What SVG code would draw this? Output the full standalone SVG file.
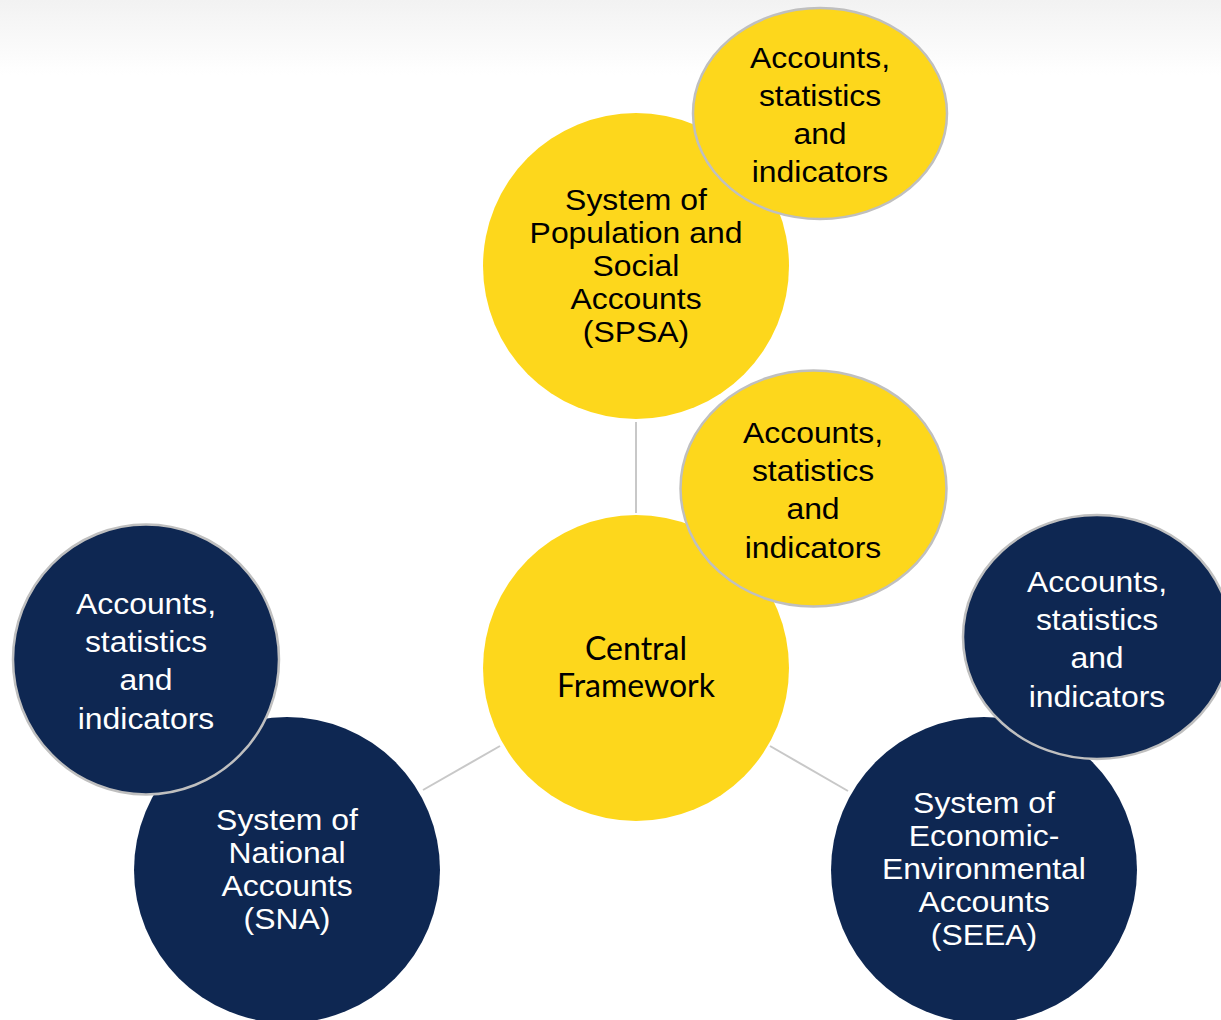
<svg xmlns="http://www.w3.org/2000/svg" width="1221" height="1020" viewBox="0 0 1221 1020">
<defs>
<linearGradient id="bg" x1="0" y1="0" x2="0" y2="1">
<stop offset="0" stop-color="#f2f2f2"/>
<stop offset="1" stop-color="#ffffff"/>
</linearGradient>
<style>
.y{fill:#FDD71C}
.n{fill:#0E2752}
.sub{stroke:#BFBFBF;stroke-width:2.5}
.t{font-family:"Liberation Sans",Arial,sans-serif;font-size:29px;text-anchor:middle}
.tb{fill:#000}
.tw{fill:#fff}
.c{font-family:Lato,"Open Sans",sans-serif;font-size:32px;text-anchor:middle;fill:#000}
.conn{stroke:#C8C8C8;stroke-width:2;fill:none}
</style>
</defs>
<rect x="0" y="0" width="1221" height="1020" fill="#fff"/>
<rect x="0" y="0" width="1221" height="75" fill="url(#bg)"/>
<g id="connectors">
<line class="conn" x1="636" y1="422" x2="636" y2="513"/>
<line class="conn" x1="423" y1="790" x2="500" y2="746"/>
<line class="conn" x1="770" y1="746" x2="848" y2="791"/>
</g>
<g id="spsa">
<circle class="y" cx="636" cy="266" r="153"/>
<g transform="translate(636 0) scale(1.1 1)">
<text class="t tb" x="0" y="210">System of</text>
<text class="t tb" x="0" y="243">Population and</text>
<text class="t tb" x="0" y="276">Social</text>
<text class="t tb" x="0" y="309">Accounts</text>
<text class="t tb" x="0" y="342">(SPSA)</text>
</g>
</g>
<g id="spsa-indicators">
<ellipse class="y sub" cx="820" cy="113.5" rx="127" ry="105.5"/>
<g transform="translate(820 0) scale(1.1 1)">
<text class="t tb" x="0" y="68">Accounts,</text>
<text class="t tb" x="0" y="106">statistics</text>
<text class="t tb" x="0" y="144">and</text>
<text class="t tb" x="0" y="182">indicators</text>
</g>
</g>
<g id="central">
<circle class="y" cx="636" cy="668" r="153"/>
<text class="c" x="636" y="660">Central</text>
<text class="c" x="636" y="697">Framework</text>
</g>
<g id="central-indicators">
<ellipse class="y sub" cx="813.5" cy="488.5" rx="133" ry="118"/>
<g transform="translate(813 0) scale(1.1 1)">
<text class="t tb" x="0" y="443">Accounts,</text>
<text class="t tb" x="0" y="481">statistics</text>
<text class="t tb" x="0" y="519">and</text>
<text class="t tb" x="0" y="558">indicators</text>
</g>
</g>
<g id="sna">
<circle class="n" cx="287" cy="870" r="153"/>
<g transform="translate(287 0) scale(1.1 1)">
<text class="t tw" x="0" y="830">System of</text>
<text class="t tw" x="0" y="863">National</text>
<text class="t tw" x="0" y="896">Accounts</text>
<text class="t tw" x="0" y="929">(SNA)</text>
</g>
</g>
<g id="sna-indicators">
<ellipse class="n sub" cx="146" cy="659.5" rx="133" ry="135"/>
<g transform="translate(146 0) scale(1.1 1)">
<text class="t tw" x="0" y="614">Accounts,</text>
<text class="t tw" x="0" y="652">statistics</text>
<text class="t tw" x="0" y="690">and</text>
<text class="t tw" x="0" y="729">indicators</text>
</g>
</g>
<g id="seea">
<circle class="n" cx="984" cy="870" r="153"/>
<g transform="translate(984 0) scale(1.1 1)">
<text class="t tw" x="0" y="813">System of</text>
<text class="t tw" x="0" y="846">Economic-</text>
<text class="t tw" x="0" y="879">Environmental</text>
<text class="t tw" x="0" y="912">Accounts</text>
<text class="t tw" x="0" y="945">(SEEA)</text>
</g>
</g>
<g id="seea-indicators">
<ellipse class="n sub" cx="1097" cy="637" rx="134" ry="122"/>
<g transform="translate(1097 0) scale(1.1 1)">
<text class="t tw" x="0" y="592">Accounts,</text>
<text class="t tw" x="0" y="630">statistics</text>
<text class="t tw" x="0" y="668">and</text>
<text class="t tw" x="0" y="707">indicators</text>
</g>
</g>
</svg>
